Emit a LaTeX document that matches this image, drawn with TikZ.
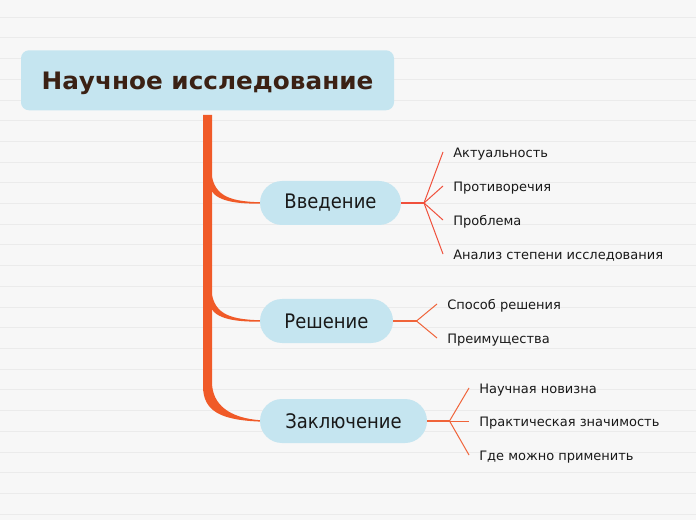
\documentclass[tikz,border=0pt]{standalone}
\usepackage{fontspec}
\setmainfont{DejaVu Sans}
\newfontfamily\midfont[FakeStretch=0.9]{DejaVu Sans}
\newfontfamily\rootfont[FakeStretch=1.03]{DejaVu Sans}
\begin{document}
\begin{tikzpicture}[x=0.75pt,y=-0.75pt,
  bgline/.style={draw=lineC,line width=0.75pt},
  rootbox/.style={fill=boxC,rounded corners=6pt,minimum width={373*0.75pt},minimum height={60*0.75pt},inner sep=0pt,
    font=\rootfont\fontsize{18pt}{20pt}\selectfont\bfseries,text=rootT,text height=15pt,text depth=1pt},
  pill/.style={fill=boxC,rounded corners=16.5pt,minimum height={44*0.75pt},inner sep=0pt,
    font=\midfont\fontsize{15pt}{18pt}\selectfont,text=black!90},
  leaf/.style={anchor=west,inner xsep=7.5pt,inner ysep=0pt,font=\fontsize{9.75pt}{12pt}\selectfont,
    text=black!90,text height=9.5pt,text depth=1.5pt},
  trunk/.style={fill=trunkC},
  lred/.style={draw=redC,line width=0.75pt},
  lora/.style={draw=oraC,line width=0.75pt},
  stemred/.style={draw=redC,line width=1.3pt},
  stemora/.style={draw=oraC,line width=1.3pt}]
\definecolor{bgC}{HTML}{F7F7F7}
\definecolor{lineC}{HTML}{EBEBEB}
\definecolor{boxC}{HTML}{C5E5F0}
\definecolor{rootT}{HTML}{3B2114}
\definecolor{trunkC}{HTML}{F05A28}
\definecolor{redC}{HTML}{F0503C}
\definecolor{oraC}{HTML}{F0643A}
% background
\fill[bgC] (0,0) rectangle (696,520);
\useasboundingbox (0,0) rectangle (696,520);
\foreach \k in {0,...,24} {
  \draw[bgline] (0,{17.3+20.7*\k}) -- (696,{17.3+20.7*\k});
}
% root
\node[rootbox] (root) at (207.5,80.3) {Научное исследование};
% trunk with last branch
\fill[trunk] (203,115) -- (203,386) .. controls (203,412) and (222,420) .. (260,421.6)
  -- (260,420.2) .. controls (230,418) and (212,405) .. (212,382) -- (212,115) -- cycle;
% branch to intro
\fill[trunk] (211,170) .. controls (213,194) and (226,201.5) .. (260,202.2)
  -- (260,203.6) .. controls (232,204) and (212,200) .. (209,185) -- cycle;
% branch to solution
\fill[trunk] (211,288) .. controls (213,312) and (226,319.5) .. (260,320.2)
  -- (260,321.6) .. controls (232,322) and (212,318) .. (209,303) -- cycle;
% main nodes
\node[pill,minimum width={141*0.75pt}] (intro) at (330.5,203) {Введение};
\node[pill,minimum width={133*0.75pt}] (sol) at (326.5,321) {Решение};
\node[pill,minimum width={167*0.75pt}] (concl) at (343.5,421) {Заключение};
% leaves of intro
\coordinate (ja) at (424,203);
\node[leaf] (a1) at (443,152) {Актуальность};
\node[leaf] (a2) at (443,186) {Противоречия};
\node[leaf] (a3) at (443,220) {Проблема};
\node[leaf] (a4) at (443,254) {Анализ степени исследования};
\draw[stemred] (intro.east) -- (ja);
\foreach \n in {a1,a2,a3,a4} \draw[lred] (ja) -- (\n.west);
% leaves of solution
\coordinate (jb) at (416.5,321);
\node[leaf] (b1) at (437,304) {Способ решения};
\node[leaf] (b2) at (437,338) {Преимущества};
\draw[stemora] (sol.east) -- (jb);
\foreach \n in {b1,b2} \draw[lora] (jb) -- (\n.west);
% leaves of conclusion
\coordinate (jc) at (449.5,421);
\node[leaf] (c1) at (469,388) {Научная новизна};
\node[leaf] (c2) at (469,421) {Практическая значимость};
\node[leaf] (c3) at (469,455) {Где можно применить};
\draw[stemora] (concl.east) -- (jc);
\foreach \n in {c1,c2,c3} \draw[lora] (jc) -- (\n.west);
\end{tikzpicture}
\end{document}
